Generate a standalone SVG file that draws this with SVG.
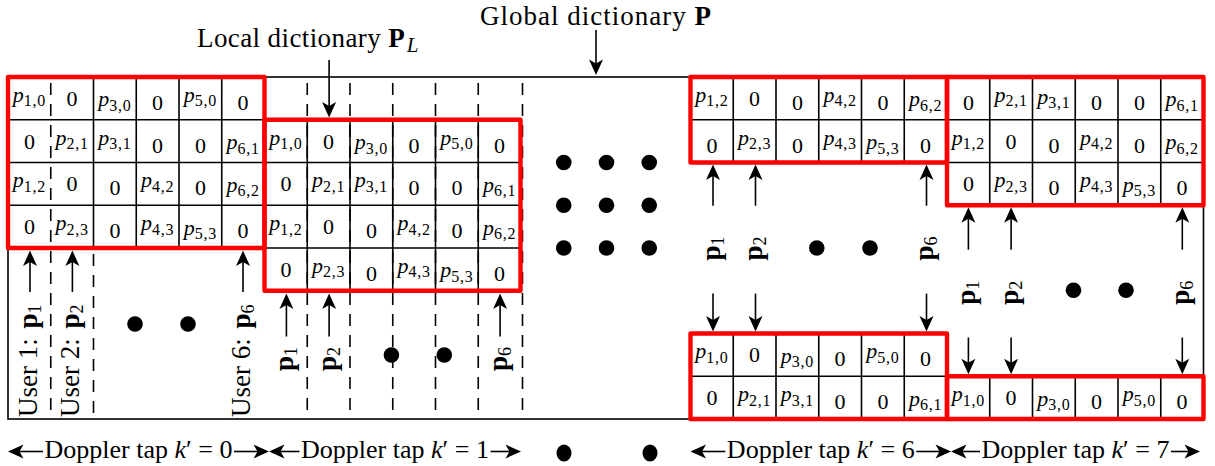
<svg xmlns="http://www.w3.org/2000/svg" width="1215" height="466" viewBox="0 0 1215 466">
<defs>
<style>
  .grid line { stroke: #000; stroke-width: 1.6; }
  .red { fill: none; stroke: #ff0000; stroke-width: 4.4; stroke-linejoin: round; }
  .frame { fill: none; stroke: #000; stroke-width: 1.6; }
  .dash { stroke: #000; stroke-width: 1.6; stroke-dasharray: 12 9; stroke-dashoffset: 15; }
  .z { font-family: "Liberation Serif", serif; font-size: 22px; text-anchor: middle; fill: #000; }
  .p { font-family: "Liberation Serif", serif; font-size: 22px; text-anchor: middle; fill: #000; }
  .i { font-style: italic; }
  .s { font-size: 16px; letter-spacing: 0.8px; }
  .lbl { font-family: "Liberation Serif", serif; font-size: 27px; fill: #000; }
  .ul { font-family: "Liberation Serif", serif; font-size: 27px; fill: #000; }
  .rl { font-family: "Liberation Serif", serif; font-size: 27px; fill: #000; text-anchor: middle; }
  .b { font-weight: bold; }
  .rs { font-size: 18px; }
  .dop { font-family: "Liberation Serif", serif; font-size: 26px; fill: #000; text-anchor: middle; }
  .arr { stroke: #000; stroke-width: 1.6; fill: none; marker-end: url(#ah); }
  .dot { fill: #000; }
</style>
<marker id="ah" viewBox="-13 -9 19 18" refX="0" refY="0" markerWidth="19" markerHeight="18" markerUnits="userSpaceOnUse" orient="auto">
  <path d="M4.5,0 L-11,-7 L-7,0 L-11,7 Z" fill="#000"/>
</marker>
</defs>

<rect width="1215" height="466" fill="#fff"/>

<!-- outer frame of the global dictionary -->
<g id="frame">
  <rect class="frame" x="8" y="77" width="1195.5" height="342"/>
</g>

<!-- user / column dividers -->
<g id="dividers">
  <line class="dash" x1="50.75" y1="77" x2="50.75" y2="419"/>
  <line class="dash" x1="93.5" y1="248" x2="93.5" y2="419"/>
  <line class="dash" x1="307.25" y1="77" x2="307.25" y2="419"/>
  <line class="dash" x1="350" y1="77" x2="350" y2="419"/>
  <line class="dash" x1="392.75" y1="77" x2="392.75" y2="419"/>
  <line class="dash" x1="435.5" y1="77" x2="435.5" y2="419"/>
  <line class="dash" x1="478.25" y1="77" x2="478.25" y2="419"/>
  <line class="dash" x1="522.5" y1="77" x2="522.5" y2="419"/>
</g>

<!-- Doppler tap 0 block -->
<g id="block-k0" transform="translate(8,77)">
  <g class="grid">
    <line x1="85.5" y1="0" x2="85.5" y2="171"/>
    <line x1="128.25" y1="0" x2="128.25" y2="171"/>
    <line x1="171" y1="0" x2="171" y2="171"/>
    <line x1="213.75" y1="0" x2="213.75" y2="171"/>
    <line x1="0" y1="42.75" x2="256.5" y2="42.75"/>
    <line x1="0" y1="85.5" x2="256.5" y2="85.5"/>
    <line x1="0" y1="128.25" x2="256.5" y2="128.25"/>
  </g>
  <g>
    <text class="p" x="21.4" y="24.9"><tspan class="i">p</tspan><tspan class="s" dy="4.5">1,0</tspan></text>
    <text class="z" x="64.1" y="28.9">0</text>
    <text class="p" x="106.9" y="29.4"><tspan class="i">p</tspan><tspan class="s" dy="4.5">3,0</tspan></text>
    <text class="z" x="149.6" y="32.9">0</text>
    <text class="p" x="192.4" y="24.9"><tspan class="i">p</tspan><tspan class="s" dy="4.5">5,0</tspan></text>
    <text class="z" x="235.1" y="32.9">0</text>
  </g>
  <g transform="translate(0,42.75)">
    <text class="z" x="21.4" y="28.9">0</text>
    <text class="p" x="64.1" y="24.9"><tspan class="i">p</tspan><tspan class="s" dy="4.5">2,1</tspan></text>
    <text class="p" x="106.9" y="24.9"><tspan class="i">p</tspan><tspan class="s" dy="4.5">3,1</tspan></text>
    <text class="z" x="149.6" y="32.9">0</text>
    <text class="z" x="192.4" y="32.9">0</text>
    <text class="p" x="235.1" y="29.4"><tspan class="i">p</tspan><tspan class="s" dy="4.5">6,1</tspan></text>
  </g>
  <g transform="translate(0,85.5)">
    <text class="p" x="21.4" y="24.9"><tspan class="i">p</tspan><tspan class="s" dy="4.5">1,2</tspan></text>
    <text class="z" x="64.1" y="28.9">0</text>
    <text class="z" x="106.9" y="32.9">0</text>
    <text class="p" x="149.6" y="24.9"><tspan class="i">p</tspan><tspan class="s" dy="4.5">4,2</tspan></text>
    <text class="z" x="192.4" y="32.9">0</text>
    <text class="p" x="235.1" y="29.4"><tspan class="i">p</tspan><tspan class="s" dy="4.5">6,2</tspan></text>
  </g>
  <g transform="translate(0,128.25)">
    <text class="z" x="21.4" y="28.9">0</text>
    <text class="p" x="64.1" y="24.9"><tspan class="i">p</tspan><tspan class="s" dy="4.5">2,3</tspan></text>
    <text class="z" x="106.9" y="32.9">0</text>
    <text class="p" x="149.6" y="24.9"><tspan class="i">p</tspan><tspan class="s" dy="4.5">4,3</tspan></text>
    <text class="p" x="192.4" y="29.4"><tspan class="i">p</tspan><tspan class="s" dy="4.5">5,3</tspan></text>
    <text class="z" x="235.1" y="32.9">0</text>
  </g>
  <rect class="red" x="0" y="0" width="256.5" height="171"/>
</g>

<!-- Doppler tap 1 block (local dictionary) -->
<g id="block-k1" transform="translate(264.5,119.75)">
  <g class="grid">
    <line x1="42.75" y1="0" x2="42.75" y2="171"/>
    <line x1="85.5" y1="0" x2="85.5" y2="171"/>
    <line x1="128.25" y1="0" x2="128.25" y2="171"/>
    <line x1="171" y1="0" x2="171" y2="171"/>
    <line x1="213.75" y1="0" x2="213.75" y2="171"/>
    <line x1="0" y1="42.75" x2="256" y2="42.75"/>
    <line x1="0" y1="85.5" x2="256" y2="85.5"/>
    <line x1="0" y1="128.25" x2="256" y2="128.25"/>
  </g>
  <g>
    <text class="p" x="21.4" y="24.9"><tspan class="i">p</tspan><tspan class="s" dy="4.5">1,0</tspan></text>
    <text class="z" x="64.1" y="28.9">0</text>
    <text class="p" x="106.9" y="29.4"><tspan class="i">p</tspan><tspan class="s" dy="4.5">3,0</tspan></text>
    <text class="z" x="149.6" y="32.9">0</text>
    <text class="p" x="192.4" y="24.9"><tspan class="i">p</tspan><tspan class="s" dy="4.5">5,0</tspan></text>
    <text class="z" x="235.1" y="32.9">0</text>
  </g>
  <g transform="translate(0,42.75)">
    <text class="z" x="21.4" y="28.9">0</text>
    <text class="p" x="64.1" y="24.9"><tspan class="i">p</tspan><tspan class="s" dy="4.5">2,1</tspan></text>
    <text class="p" x="106.9" y="24.9"><tspan class="i">p</tspan><tspan class="s" dy="4.5">3,1</tspan></text>
    <text class="z" x="149.6" y="32.9">0</text>
    <text class="z" x="192.4" y="32.9">0</text>
    <text class="p" x="235.1" y="29.4"><tspan class="i">p</tspan><tspan class="s" dy="4.5">6,1</tspan></text>
  </g>
  <g transform="translate(0,85.5)">
    <text class="p" x="21.4" y="24.9"><tspan class="i">p</tspan><tspan class="s" dy="4.5">1,2</tspan></text>
    <text class="z" x="64.1" y="28.9">0</text>
    <text class="z" x="106.9" y="32.9">0</text>
    <text class="p" x="149.6" y="24.9"><tspan class="i">p</tspan><tspan class="s" dy="4.5">4,2</tspan></text>
    <text class="z" x="192.4" y="32.9">0</text>
    <text class="p" x="235.1" y="29.4"><tspan class="i">p</tspan><tspan class="s" dy="4.5">6,2</tspan></text>
  </g>
  <g transform="translate(0,128.25)">
    <text class="z" x="21.4" y="28.9">0</text>
    <text class="p" x="64.1" y="24.9"><tspan class="i">p</tspan><tspan class="s" dy="4.5">2,3</tspan></text>
    <text class="z" x="106.9" y="32.9">0</text>
    <text class="p" x="149.6" y="24.9"><tspan class="i">p</tspan><tspan class="s" dy="4.5">4,3</tspan></text>
    <text class="p" x="192.4" y="29.4"><tspan class="i">p</tspan><tspan class="s" dy="4.5">5,3</tspan></text>
    <text class="z" x="235.1" y="32.9">0</text>
  </g>
  <rect class="red" x="0" y="0" width="256" height="171"/>
</g>

<!-- Doppler tap 6 block: upper part (rows 2-3) -->
<g id="block-k6-top" transform="translate(690.5,77)">
  <g class="grid">
    <line x1="42.75" y1="0" x2="42.75" y2="85.5"/>
    <line x1="85.5" y1="0" x2="85.5" y2="85.5"/>
    <line x1="128.25" y1="0" x2="128.25" y2="85.5"/>
    <line x1="171" y1="0" x2="171" y2="85.5"/>
    <line x1="213.75" y1="0" x2="213.75" y2="85.5"/>
    <line x1="0" y1="42.75" x2="256.5" y2="42.75"/>
  </g>
  <g>
    <text class="p" x="21.4" y="24.9"><tspan class="i">p</tspan><tspan class="s" dy="4.5">1,2</tspan></text>
    <text class="z" x="64.1" y="28.9">0</text>
    <text class="z" x="106.9" y="32.9">0</text>
    <text class="p" x="149.6" y="24.9"><tspan class="i">p</tspan><tspan class="s" dy="4.5">4,2</tspan></text>
    <text class="z" x="192.4" y="32.9">0</text>
    <text class="p" x="235.1" y="29.4"><tspan class="i">p</tspan><tspan class="s" dy="4.5">6,2</tspan></text>
  </g>
  <g transform="translate(0,42.75)">
    <text class="z" x="21.4" y="32.9">0</text>
    <text class="p" x="64.1" y="24.9"><tspan class="i">p</tspan><tspan class="s" dy="4.5">2,3</tspan></text>
    <text class="z" x="106.9" y="32.9">0</text>
    <text class="p" x="149.6" y="24.9"><tspan class="i">p</tspan><tspan class="s" dy="4.5">4,3</tspan></text>
    <text class="p" x="192.4" y="29.4"><tspan class="i">p</tspan><tspan class="s" dy="4.5">5,3</tspan></text>
    <text class="z" x="235.1" y="32.9">0</text>
  </g>
  <rect class="red" x="0" y="0" width="256.5" height="85.5"/>
</g>

<!-- Doppler tap 7 block: upper part (rows 1-3) -->
<g id="block-k7-top" transform="translate(947,77)">
  <g class="grid">
    <line x1="42.75" y1="0" x2="42.75" y2="128.25"/>
    <line x1="85.5" y1="0" x2="85.5" y2="128.25"/>
    <line x1="128.25" y1="0" x2="128.25" y2="128.25"/>
    <line x1="171" y1="0" x2="171" y2="128.25"/>
    <line x1="213.75" y1="0" x2="213.75" y2="128.25"/>
    <line x1="0" y1="42.75" x2="256.5" y2="42.75"/>
    <line x1="0" y1="85.5" x2="256.5" y2="85.5"/>
  </g>
  <g>
    <text class="z" x="21.4" y="32.9">0</text>
    <text class="p" x="64.1" y="24.9"><tspan class="i">p</tspan><tspan class="s" dy="4.5">2,1</tspan></text>
    <text class="p" x="106.9" y="26.9"><tspan class="i">p</tspan><tspan class="s" dy="4.5">3,1</tspan></text>
    <text class="z" x="149.6" y="32.9">0</text>
    <text class="z" x="192.4" y="32.9">0</text>
    <text class="p" x="235.1" y="29.4"><tspan class="i">p</tspan><tspan class="s" dy="4.5">6,1</tspan></text>
  </g>
  <g transform="translate(0,42.75)">
    <text class="p" x="21.4" y="24.9"><tspan class="i">p</tspan><tspan class="s" dy="4.5">1,2</tspan></text>
    <text class="z" x="64.1" y="28.9">0</text>
    <text class="z" x="106.9" y="32.9">0</text>
    <text class="p" x="149.6" y="24.9"><tspan class="i">p</tspan><tspan class="s" dy="4.5">4,2</tspan></text>
    <text class="z" x="192.4" y="32.9">0</text>
    <text class="p" x="235.1" y="29.4"><tspan class="i">p</tspan><tspan class="s" dy="4.5">6,2</tspan></text>
  </g>
  <g transform="translate(0,85.5)">
    <text class="z" x="21.4" y="28.9">0</text>
    <text class="p" x="64.1" y="24.9"><tspan class="i">p</tspan><tspan class="s" dy="4.5">2,3</tspan></text>
    <text class="z" x="106.9" y="32.9">0</text>
    <text class="p" x="149.6" y="24.9"><tspan class="i">p</tspan><tspan class="s" dy="4.5">4,3</tspan></text>
    <text class="p" x="192.4" y="29.4"><tspan class="i">p</tspan><tspan class="s" dy="4.5">5,3</tspan></text>
    <text class="z" x="235.1" y="32.9">0</text>
  </g>
  <rect class="red" x="0" y="0" width="256.5" height="128.25"/>
</g>

<!-- Doppler tap 6 block: wrapped part (rows 0-1) -->
<g id="block-k6-bottom" transform="translate(690.5,333.5)">
  <g class="grid">
    <line x1="42.75" y1="0" x2="42.75" y2="85.5"/>
    <line x1="85.5" y1="0" x2="85.5" y2="85.5"/>
    <line x1="128.25" y1="0" x2="128.25" y2="85.5"/>
    <line x1="171" y1="0" x2="171" y2="85.5"/>
    <line x1="213.75" y1="0" x2="213.75" y2="85.5"/>
    <line x1="0" y1="42.75" x2="256.5" y2="42.75"/>
  </g>
  <g>
    <text class="p" x="21.4" y="24.9"><tspan class="i">p</tspan><tspan class="s" dy="4.5">1,0</tspan></text>
    <text class="z" x="64.1" y="28.9">0</text>
    <text class="p" x="106.9" y="29.4"><tspan class="i">p</tspan><tspan class="s" dy="4.5">3,0</tspan></text>
    <text class="z" x="149.6" y="32.9">0</text>
    <text class="p" x="192.4" y="24.9"><tspan class="i">p</tspan><tspan class="s" dy="4.5">5,0</tspan></text>
    <text class="z" x="235.1" y="32.9">0</text>
  </g>
  <g transform="translate(0,42.75)">
    <text class="z" x="21.4" y="28.9">0</text>
    <text class="p" x="64.1" y="24.9"><tspan class="i">p</tspan><tspan class="s" dy="4.5">2,1</tspan></text>
    <text class="p" x="106.9" y="24.9"><tspan class="i">p</tspan><tspan class="s" dy="4.5">3,1</tspan></text>
    <text class="z" x="149.6" y="32.9">0</text>
    <text class="z" x="192.4" y="32.9">0</text>
    <text class="p" x="235.1" y="29.4"><tspan class="i">p</tspan><tspan class="s" dy="4.5">6,1</tspan></text>
  </g>
  <rect class="red" x="0" y="0" width="256.5" height="85.5"/>
</g>

<!-- Doppler tap 7 block: wrapped part (row 0) -->
<g id="block-k7-bottom" transform="translate(947,376.25)">
  <g class="grid">
    <line x1="42.75" y1="0" x2="42.75" y2="42.75"/>
    <line x1="85.5" y1="0" x2="85.5" y2="42.75"/>
    <line x1="128.25" y1="0" x2="128.25" y2="42.75"/>
    <line x1="171" y1="0" x2="171" y2="42.75"/>
    <line x1="213.75" y1="0" x2="213.75" y2="42.75"/>
  </g>
  <g>
    <text class="p" x="21.4" y="24.9"><tspan class="i">p</tspan><tspan class="s" dy="4.5">1,0</tspan></text>
    <text class="z" x="64.1" y="28.9">0</text>
    <text class="p" x="106.9" y="29.4"><tspan class="i">p</tspan><tspan class="s" dy="4.5">3,0</tspan></text>
    <text class="z" x="149.6" y="32.9">0</text>
    <text class="p" x="192.4" y="24.9"><tspan class="i">p</tspan><tspan class="s" dy="4.5">5,0</tspan></text>
    <text class="z" x="235.1" y="32.9">0</text>
  </g>
  <rect class="red" x="0" y="0" width="256.5" height="42.75"/>
</g>

<!-- titles -->
<g id="label-global">
  <text class="lbl" x="480" y="25"><tspan letter-spacing="1">Global dictionary </tspan><tspan class="b">P</tspan></text>
</g>
<g id="label-local">
  <text class="lbl" x="197" y="47"><tspan letter-spacing="0.4">Local dictionary </tspan><tspan class="b">P</tspan><tspan class="i" dx="2" dy="5" font-size="21">L</tspan></text>
</g>

<!-- user labels under tap 0 -->
<g id="users-k0">
  <text class="ul" transform="translate(36.5,417) rotate(-90)">User 1: <tspan class="b" dx="3">p</tspan><tspan class="rs" dy="4">1</tspan></text>
  <text class="ul" transform="translate(79,417) rotate(-90)">User 2: <tspan class="b" dx="3">p</tspan><tspan class="rs" dy="4">2</tspan></text>
  <text class="ul" transform="translate(249.5,417) rotate(-90)">User 6: <tspan class="b" dx="3">p</tspan><tspan class="rs" dy="4">6</tspan></text>
  <circle class="dot" cx="135" cy="324" r="7.8"/>
  <circle class="dot" cx="188" cy="324" r="7.8"/>
</g>

<!-- pilot labels under tap 1 -->
<g id="pilots-k1">
  <text class="rl" transform="translate(292.9,359) rotate(-90)"><tspan class="b">p</tspan><tspan class="rs" dy="4">1</tspan></text>
  <text class="rl" transform="translate(335.6,359) rotate(-90)"><tspan class="b">p</tspan><tspan class="rs" dy="4">2</tspan></text>
  <text class="rl" transform="translate(506.6,359) rotate(-90)"><tspan class="b">p</tspan><tspan class="rs" dy="4">6</tspan></text>
  <circle class="dot" cx="391.4" cy="355" r="7.8"/>
  <circle class="dot" cx="444.3" cy="355" r="7.8"/>
</g>

<!-- omitted taps -->
<g id="ellipsis-taps">
  <circle class="dot" cx="563.75" cy="162.5" r="7.8"/>
  <circle class="dot" cx="606.5" cy="162.5" r="7.8"/>
  <circle class="dot" cx="649.25" cy="162.5" r="7.8"/>
  <circle class="dot" cx="563.75" cy="205.25" r="7.8"/>
  <circle class="dot" cx="606.5" cy="205.25" r="7.8"/>
  <circle class="dot" cx="649.25" cy="205.25" r="7.8"/>
  <circle class="dot" cx="563.75" cy="248" r="7.8"/>
  <circle class="dot" cx="606.5" cy="248" r="7.8"/>
  <circle class="dot" cx="649.25" cy="248" r="7.8"/>
</g>

<!-- pilot labels for tap 6 -->
<g id="pilots-k6">
  <text class="rl" transform="translate(719.5,248.5) rotate(-90)"><tspan class="b">p</tspan><tspan class="rs" dy="4">1</tspan></text>
  <text class="rl" transform="translate(762,248.5) rotate(-90)"><tspan class="b">p</tspan><tspan class="rs" dy="4">2</tspan></text>
  <text class="rl" transform="translate(933,248.5) rotate(-90)"><tspan class="b">p</tspan><tspan class="rs" dy="4">6</tspan></text>
  <circle class="dot" cx="816.8" cy="248" r="7.8"/>
  <circle class="dot" cx="870" cy="248" r="7.8"/>
</g>

<!-- pilot labels for tap 7 -->
<g id="pilots-k7">
  <text class="rl" transform="translate(974.9,292.7) rotate(-90)"><tspan class="b">p</tspan><tspan class="rs" dy="4">1</tspan></text>
  <text class="rl" transform="translate(1017.6,292.7) rotate(-90)"><tspan class="b">p</tspan><tspan class="rs" dy="4">2</tspan></text>
  <text class="rl" transform="translate(1188.6,292.7) rotate(-90)"><tspan class="b">p</tspan><tspan class="rs" dy="4">6</tspan></text>
  <circle class="dot" cx="1073.5" cy="290.2" r="7.8"/>
  <circle class="dot" cx="1126" cy="290.2" r="7.8"/>
</g>

<!-- Doppler tap captions -->
<g id="caption-k0">
  <text class="dop" x="138.5" y="458">Doppler tap <tspan class="i">k</tspan>′ = 0</text>
</g>
<g id="caption-k1">
  <text class="dop" x="395" y="458">Doppler tap <tspan class="i">k</tspan>′ = 1</text>
</g>
<g id="caption-dots">
  <ellipse class="dot" cx="564" cy="453" rx="7.5" ry="8.6"/>
  <ellipse class="dot" cx="650" cy="453" rx="7.5" ry="8.6"/>
</g>
<g id="caption-k6">
  <text class="dop" x="820.8" y="458">Doppler tap <tspan class="i">k</tspan>′ = 6</text>
</g>
<g id="caption-k7">
  <text class="dop" x="1075.5" y="458">Doppler tap <tspan class="i">k</tspan>′ = 7</text>
</g>

<!-- arrows -->
<g id="connectors">
  <line class="arr" x1="596" y1="30" x2="596" y2="70.5"/>
  <line class="arr" x1="329.1" y1="60" x2="329.1" y2="113"/>

  <line class="arr" x1="30" y1="292" x2="30" y2="255"/>
  <line class="arr" x1="72.4" y1="292" x2="72.4" y2="255"/>
  <line class="arr" x1="243" y1="292" x2="243" y2="255"/>

  <line class="arr" x1="286.4" y1="336.5" x2="286.4" y2="298"/>
  <line class="arr" x1="329.1" y1="336.5" x2="329.1" y2="298"/>
  <line class="arr" x1="500.1" y1="336.5" x2="500.1" y2="298"/>

  <line class="arr" x1="713" y1="205.7" x2="713" y2="169"/>
  <line class="arr" x1="755.5" y1="205.7" x2="755.5" y2="169"/>
  <line class="arr" x1="926.5" y1="205.7" x2="926.5" y2="169"/>
  <line class="arr" x1="713" y1="293.6" x2="713" y2="327"/>
  <line class="arr" x1="755.5" y1="293.6" x2="755.5" y2="327"/>
  <line class="arr" x1="926.5" y1="293.6" x2="926.5" y2="327"/>

  <line class="arr" x1="968.4" y1="249.7" x2="968.4" y2="211.8"/>
  <line class="arr" x1="1011.1" y1="249.7" x2="1011.1" y2="211.8"/>
  <line class="arr" x1="1182.3" y1="249.7" x2="1182.3" y2="211.8"/>
  <line class="arr" x1="968.4" y1="337.5" x2="968.4" y2="369.7"/>
  <line class="arr" x1="1011.1" y1="337.5" x2="1011.1" y2="369.7"/>
  <line class="arr" x1="1182.3" y1="337.5" x2="1182.3" y2="369.7"/>

  <line class="arr" x1="43" y1="451.5" x2="12.5" y2="451.5"/>
  <line class="arr" x1="234" y1="451.5" x2="264.5" y2="451.5"/>
  <line class="arr" x1="299.5" y1="451.5" x2="273.5" y2="451.5"/>
  <line class="arr" x1="490.5" y1="451.5" x2="516.5" y2="451.5"/>
  <line class="arr" x1="725.3" y1="451.5" x2="695" y2="451.5"/>
  <line class="arr" x1="916.3" y1="451.5" x2="946.5" y2="451.5"/>
  <line class="arr" x1="980" y1="451.5" x2="955.5" y2="451.5"/>
  <line class="arr" x1="1171" y1="451.5" x2="1195.5" y2="451.5"/>
</g>
</svg>
